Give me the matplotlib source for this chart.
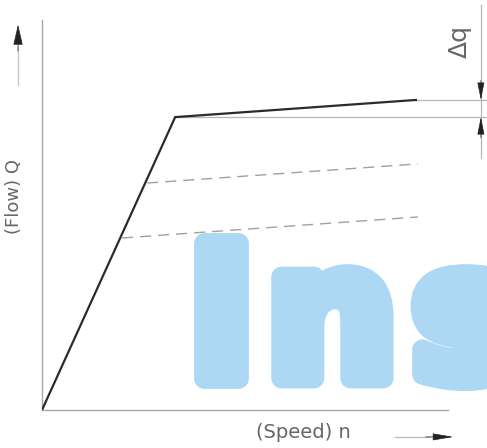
import matplotlib
matplotlib.use('Agg')
import matplotlib.pyplot as plt
import matplotlib.patheffects as pe

# Curve data (speed n, flow Q) in relative units
speed = [0, 32.8, 92.1]
flow = [0, 75.1, 79.5]

# reduced displacement lines (dashed)
dash_speed = [[25.9, 92.6], [19.7, 92.6]]
dash_flow = [[58.2, 63.1], [44.1, 49.5]]

flow_label = '(Flow) Q'
speed_label = '(Speed) n'
delta_label = '\u0394q'
watermark = ['I', 'n', 's']
watermark_x = [35.6, 55.2, 91.0]

fig = plt.figure(figsize=(4.87, 4.48), dpi=100)
ax = fig.add_axes([42 / 487, 38 / 448, 406 / 487, 390 / 448])
ax.set_xlim(0, 100)
ax.set_ylim(0, 100)

# watermark behind everything
for ch, wx in zip(watermark, watermark_x):
    ax.text(wx, 8.2, ch, fontsize=133, fontweight='bold', color='#add8f3',
            family='DejaVu Sans', va='baseline', ha='left', clip_on=False, zorder=0,
            path_effects=[pe.withStroke(linewidth=15, foreground='#add8f3', capstyle='round',
                                        joinstyle='round')])

# main curve
ax.plot(speed, flow, color='#2b2b2b', lw=1.6, solid_joinstyle='miter', zorder=3)
for xs, ys in zip(dash_speed, dash_flow):
    ax.plot(xs, ys, color='#a0a0a0', lw=1.0, dashes=(8, 5), zorder=2)

# delta q helper lines
ax.plot([speed[2], 109.6], [flow[2], flow[2]], color='#b5b5b5', lw=0.9, clip_on=False)
ax.plot([speed[1], 109.6], [flow[1], flow[1]], color='#b5b5b5', lw=0.9, clip_on=False)
ax.plot([108.1, 108.1], [64.6, 103.8], color='#b5b5b5', lw=0.9, clip_on=False)
ax.annotate('', xy=(108.1, flow[2]), xytext=(108.1, 84.5), annotation_clip=False,
            arrowprops=dict(arrowstyle='-|>,head_length=1.1,head_width=0.22', color='#222', lw=0.5,
                            shrinkA=0, shrinkB=0))
ax.annotate('', xy=(108.1, flow[1]), xytext=(108.1, 69.8), annotation_clip=False,
            arrowprops=dict(arrowstyle='-|>,head_length=1.1,head_width=0.22', color='#222', lw=0.5,
                            shrinkA=0, shrinkB=0))
ax.text(103.0, 94.4, delta_label, rotation=90, fontsize=18, color='#666',
        ha='center', va='center', clip_on=False)

# axis direction arrows
ax.plot([-5.9, -5.9], [83.3, 93.0], color='#c8c8c8', lw=1.0, clip_on=False)
ax.annotate('', xy=(-5.9, 98.8), xytext=(-5.9, 92.0), annotation_clip=False,
            arrowprops=dict(arrowstyle='-|>,head_length=1.3,head_width=0.3', color='#222', lw=0.5,
                            shrinkA=0, shrinkB=0))
ax.plot([86.9, 95.5], [-6.9, -6.9], color='#bdbdbd', lw=1.0, clip_on=False)
ax.annotate('', xy=(101.3, -6.9), xytext=(94.5, -6.9), annotation_clip=False,
            arrowprops=dict(arrowstyle='-|>,head_length=1.3,head_width=0.22', color='#222', lw=0.5,
                            shrinkA=0, shrinkB=0))

ax.text(64.3, -5.7, speed_label, fontsize=14, color='#666', ha='center', va='center', clip_on=False)
ax.text(-6.8, 54.8, flow_label, rotation=90, fontsize=13, color='#666', ha='center', va='center',
        clip_on=False)

# axes look
for s in ['top', 'right']:
    ax.spines[s].set_visible(False)
for s in ['left', 'bottom']:
    ax.spines[s].set_color('#a8a8a8')
    ax.spines[s].set_linewidth(1.0)
ax.set_xticks([])
ax.set_yticks([])

fig.savefig('out.png', dpi=100)
